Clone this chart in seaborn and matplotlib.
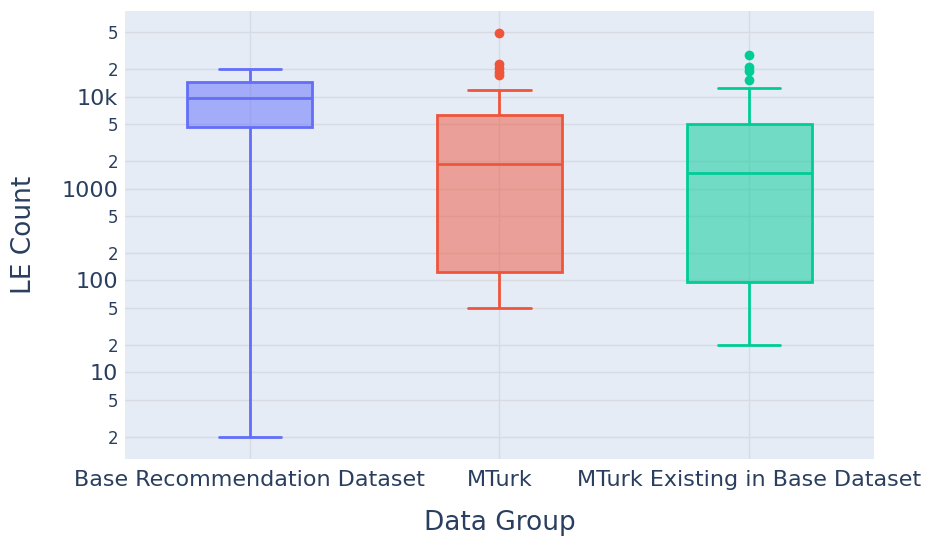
import numpy as np
import pandas as pd
import matplotlib
matplotlib.use("Agg")
import matplotlib.pyplot as plt
from matplotlib.colors import to_rgba
import seaborn as sns

# Category names (x axis)
groups = ["Base Recommendation Dataset", "MTurk", "MTurk Existing in Base Dataset"]

# Per-item LE counts for each group
base_counts = [2, 4700, 9800, 14300, 20000]
mturk_counts = [50, 62, 75, 88, 101, 113, 124, 190, 320, 560, 900, 1350, 1870,
                2300, 2900, 3600, 4500, 5400, 6300, 11900,
                17400, 18700, 20700, 22900, 49600]
mturk_base_counts = [20, 30, 45, 60, 78, 97, 170, 300, 520, 900, 1480,
                     1900, 2500, 3200, 4100, 5050, 12400,
                     15300, 19200, 21200, 28600]

# Whisker reach as (low, high) percentiles; points beyond are drawn as outliers
whisker_pcts = [(0, 100), (0, 80), (0, 82)]

colors = ["#636EFA", "#EF553B", "#00CC96"]

# Y tick positions and labels
ytick_values = [2, 5, 10, 20, 50, 100, 200, 500, 1000, 2000, 5000, 10000, 20000, 50000]
ytick_labels = ["2", "5", "10", "2", "5", "100", "2", "5", "1000", "2", "5", "10k", "2", "5"]
major_labels = {"10", "100", "1000", "10k"}

df = pd.DataFrame({
    "Data Group": np.repeat(groups, [len(base_counts), len(mturk_counts), len(mturk_base_counts)]),
    "LE Count": base_counts + mturk_counts + mturk_base_counts,
})

text_color = "#2a3f5f"
grid_color = "#D8DBE1"

sns.set_style("white")
plt.rcParams["font.family"] = ["DejaVu Sans"]

fig = plt.figure(figsize=(9.28, 5.39), dpi=100)
ax = fig.add_axes([125 / 928, 1 - 459 / 539, (874 - 125) / 928, (459 - 10.7) / 539])
ax.set_facecolor("#E5ECF6")

lw = 2.0
for g, col, whis in zip(groups, colors, whisker_pcts):
    sub = df[df["Data Group"] == g]
    sns.boxplot(
        data=sub, x="Data Group", y="LE Count", order=groups, ax=ax,
        log_scale=True, whis=whis, width=0.5, color=col, linecolor=col,
        saturation=1, linewidth=lw,
        boxprops=dict(facecolor=to_rgba(col, 0.5), edgecolor=col, linewidth=lw),
        medianprops=dict(color=col, linewidth=lw),
        whiskerprops=dict(color=col, linewidth=lw),
        capprops=dict(color=col, linewidth=lw),
        flierprops=dict(marker="o", markersize=6, markerfacecolor=col,
                        markeredgecolor=col, linestyle="none"),
    )

for p in ax.patches:
    ec = p.get_edgecolor()
    p.set_facecolor((ec[0], ec[1], ec[2], 0.5))

ax.set_xlim(-0.5, 2.5)
ax.set_ylim(1.139, 86300)
ax.set_yticks(ytick_values)
ax.set_yticklabels(ytick_labels)
ax.yaxis.set_minor_locator(matplotlib.ticker.NullLocator())
for lab in ax.get_yticklabels():
    lab.set_fontsize(16 if lab.get_text() in major_labels else 12)
    lab.set_color(text_color)
for lab in ax.get_xticklabels():
    lab.set_fontsize(16)
    lab.set_color(text_color)

ax.tick_params(axis="both", length=0)
ax.tick_params(axis="y", pad=5)
ax.tick_params(axis="x", pad=8)
ax.grid(True, color=grid_color, linewidth=1)
ax.set_axisbelow(True)
for s in ax.spines.values():
    s.set_visible(False)

ax.set_xlabel("Data Group", fontsize=19, color=text_color, labelpad=14)
ax.set_ylabel("LE Count", fontsize=19, color=text_color, labelpad=12)
ax.yaxis.set_label_coords(-0.118, 0.5)

fig.savefig("out.png", dpi=100, facecolor="white")
